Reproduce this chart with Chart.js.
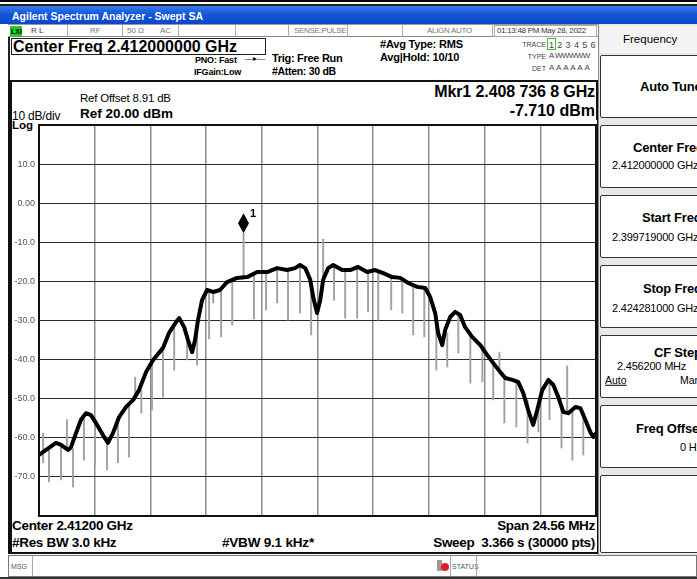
<!DOCTYPE html>
<html>
<head>
<meta charset="utf-8">
<script src="https://cdn.jsdelivr.net/npm/chart.js@4/dist/chart.umd.min.js"></script>
<style>
  html,body{margin:0;padding:0;}
  body{width:697px;height:579px;position:relative;overflow:hidden;background:#fff;font-family:"Liberation Sans",Arial,sans-serif;color:#000;}
  .t{position:absolute;white-space:pre;line-height:1;transform:translateY(-50%);}
  .b{font-weight:bold;}
  .box{position:absolute;box-sizing:border-box;}
  #cv{position:absolute;left:0;top:0;z-index:5;}
</style>
</head>
<body>
<script>
// ---------------- DATA ----------------
// frequency offsets from center (MHz), center 2412.000 MHz, span 24.562 MHz
const centerMHz = 2412.0;
const spanMHz = 24.562;
const traceFreq = [-12.28,-11.97,-11.53,-11.31,-11.00,-10.87,-10.65,-10.43,-10.21,-9.99,-9.77,-9.46,-9.24,-9.02,-8.75,-8.44,-8.13,-7.87,-7.56,-7.25,-6.81,-6.55,-6.24,-6.10,-5.88,-5.71,-5.53,-5.40,-5.27,-5.09,-4.87,-4.60,-4.30,-3.99,-3.55,-3.10,-2.66,-2.22,-1.78,-1.34,-0.99,-0.77,-0.54,-0.32,-0.19,-0.02,0.12,0.25,0.47,0.69,1.09,1.44,1.79,2.19,2.54,2.90,3.29,3.65,4.00,4.40,4.75,4.97,5.19,5.32,5.50,5.63,5.85,6.07,6.29,6.51,6.82,7.18,7.48,7.75,8.06,8.28,8.59,8.85,9.07,9.29,9.51,9.69,9.91,10.18,10.40,10.62,10.84,11.06,11.37,11.59,11.81,12.03,12.16,12.28];
const traceLevel = [-64.4,-63.1,-61.3,-61.8,-63.1,-62.4,-58.8,-55.4,-53.7,-54.2,-56.2,-59.3,-61.3,-58.8,-54.7,-52.1,-50.3,-47.8,-43.2,-40.1,-37.0,-33.2,-30.4,-29.4,-31.7,-35.0,-38.1,-35.0,-29.9,-24.8,-22.2,-22.7,-22.2,-20.2,-19.1,-18.9,-17.6,-17.6,-16.6,-17.1,-16.6,-15.8,-16.6,-19.6,-24.0,-28.1,-24.8,-19.6,-16.6,-15.8,-17.1,-17.1,-16.3,-17.6,-17.1,-17.9,-18.9,-19.1,-20.4,-21.4,-21.7,-24.0,-28.1,-33.2,-36.3,-32.4,-29.1,-27.8,-28.6,-31.7,-34.2,-36.3,-38.8,-40.9,-43.2,-44.7,-45.2,-45.7,-48.5,-52.9,-56.7,-52.9,-47.8,-45.2,-46.5,-49.6,-53.4,-53.7,-52.1,-52.4,-55.4,-58.5,-59.8,-58.8];
// gray averaging spikes: frequency offset (MHz), start level, end level (dBm)
const spikeFreq = [-12.10,-11.84,-11.31,-11.05,-10.78,-10.30,-9.81,-9.28,-8.80,-8.31,-8.04,-7.77,-7.30,-6.81,-6.32,-5.75,-5.31,-4.78,-4.60,-4.25,-3.76,-3.26,-2.80,-2.27,-1.78,-1.30,-0.77,-0.28,0.25,0.73,1.22,1.75,2.23,2.68,3.25,3.74,4.22,4.71,5.24,5.72,6.21,6.74,7.27,7.75,8.02,8.24,8.77,9.26,9.74,10.23,10.76,11.01,11.24,11.72];
const spikeFrom = [-58.8,-63.1,-61.8,-55.4,-62.9,-54.2,-54.9,-60.6,-55.4,-51.6,-44.5,-47.8,-40.6,-37.5,-31.2,-33.7,-30.4,-22.5,-22.7,-22.2,-19.6,-18.9,-18.6,-17.6,-16.6,-17.1,-16.1,-20.2,-19.6,-16.1,-17.1,-16.6,-17.6,-17.1,-18.9,-19.4,-20.9,-21.7,-29.4,-33.2,-28.1,-33.2,-36.8,-40.9,-42.7,-44.5,-45.5,-50.3,-52.9,-45.5,-51.6,-53.7,-53.4,-53.4];
const spikeTo = [-66.4,-71.3,-70.8,-62.4,-72.6,-65.7,-67.0,-68.2,-66.4,-64.9,-50.3,-53.7,-52.9,-49.6,-42.7,-40.1,-41.4,-34.7,-25.5,-34.2,-31.2,-7.71,-29.6,-27.3,-25.5,-29.9,-28.1,-33.7,-9.2,-24.8,-29.4,-29.4,-27.8,-29.9,-27.3,-28.1,-33.7,-34.2,-42.7,-41.9,-38.3,-46.0,-45.7,-50.3,-38.1,-56.2,-57.2,-61.3,-58.5,-55.4,-62.6,-41.6,-65.7,-64.4];
// marker 1
const markerFreq = [-3.2632];   // 2.4087368 GHz
const markerLevel = [-7.71];
const markerLabels = ['1'];
// y tick labels (ref 20 dBm, 10 dB/div)
const yTickValues = [20,10,0,-10,-20,-30,-40,-50,-60,-70,-80];
const yTickLabels = ['','10.0','0.00','-10.0','-20.0','-30.0','-40.0','-50.0','-60.0','-70.0',''];

// ---------------- CHROME ----------------
function txt(s, x, y, size, opts) {
  opts = opts || {};
  const d = document.createElement('div');
  d.className = 't' + (opts.bold ? ' b' : '');
  d.textContent = s;
  d.style.fontSize = size + 'px';
  if (opts.right !== undefined) d.style.right = (697 - opts.right) + 'px'; else d.style.left = x + 'px';
  d.style.top = y + 'px';
  if (opts.color) d.style.color = opts.color;
  if (opts.ls !== undefined) d.style.letterSpacing = opts.ls + 'px';
  if (opts.center) { d.style.transform = 'translate(-50%,-50%)'; }
  if (opts.ul) d.style.textDecoration = 'underline';
  document.body.appendChild(d);
  return d;
}
function box(x, y, w, h, css) {
  const d = document.createElement('div');
  d.className = 'box';
  d.style.left = x + 'px'; d.style.top = y + 'px';
  d.style.width = w + 'px'; d.style.height = h + 'px';
  Object.assign(d.style, css || {});
  document.body.appendChild(d);
  return d;
}
// outer top lines and title bar
box(0, 0, 697, 2, {background:'#000'});
box(0, 4, 697, 2, {background:'#222'});
box(0, 6, 697, 18, {background:'linear-gradient(180deg,#3b7be9 0%,#1456d8 45%,#0a47c8 100%)'});
txt('Agilent Spectrum Analyzer - Swept SA', 12, 15.5, 10.5, {color:'#fff', bold:true});
// status row
box(8, 24, 590, 13, {background:'#fff', borderTop:'1px solid #999', borderBottom:'1px solid #888'});
box(10, 26, 12, 10, {background:'#22cc22'});
txt('LXI', 11, 31, 7, {bold:true});
txt('R L', 31, 31, 8, {color:'#333'});
const seps = [67, 122, 178, 235, 288, 347, 402, 492];
seps.forEach(sx => box(sx, 25, 1, 12, {background:'#aaa'}));
txt('RF', 90, 31, 8, {color:'#777'});
txt('50 \u03a9', 127, 31, 8, {color:'#777'});
txt('AC', 160, 31, 8, {color:'#777'});
txt('SENSE:PULSE', 294, 31, 8, {color:'#777', ls:-0.3});
txt('ALIGN AUTO', 427, 31, 8, {color:'#777', ls:-0.3});
box(494, 25, 103, 12, {border:'1px solid #aaa', background:'#fff'});
txt('01:13:48 PM May 28, 2022', 497, 31, 8, {color:'#333', ls:-0.3});
// header block
box(8, 37, 590, 44, {background:'#fff', borderLeft:'2px solid #222'});
box(11, 38, 255, 17, {border:'1.5px solid #222'});
txt('Center Freq 2.412000000 GHz', 13, 46.5, 16, {bold:true, ls:0});
txt('PNO: Fast', 195, 60, 9, {bold:true, ls:-0.2});
txt('\u2014\u25b8\u2014', 245, 59, 8, {});
txt('IFGain:Low', 194, 71.5, 9, {bold:true, ls:-0.2});
txt('Trig: Free Run', 272, 58, 11, {bold:true, ls:-0.3});
txt('#Atten: 30 dB', 272, 70.5, 10.5, {bold:true, ls:-0.3});
txt('#Avg Type: RMS', 380, 43.5, 11, {bold:true, ls:-0.2});
txt('Avg|Hold: 10/10', 380, 57, 11, {bold:true, ls:-0.2});
txt('TRACE', 546, 44, 7, {right:546, color:'#444'});
txt('TYPE', 546, 56, 7, {right:546, color:'#444'});
txt('DET', 546, 67.5, 7, {right:546, color:'#444'});
box(547, 38, 9, 12, {border:'1px solid #44bb44'});
txt('1 2 3 4 5 6', 549, 44.5, 9, {color:'#444', ls:0.4});
txt('A WWWWW', 549, 56, 8, {color:'#444', ls:-0.6});
txt('A A A A A A', 549, 67.5, 8, {color:'#444', ls:0.2});
// chart frame
box(8, 80, 591, 474, {borderTop:'2px solid #111', borderLeft:'4px solid #111', borderRight:'2px solid #111', borderBottom:'2px solid #111', background:'#fff'});
txt('Ref Offset 8.91 dB', 80, 99, 11.5, {ls:-0.2});
txt('Ref 20.00 dBm', 80, 114, 13.5, {bold:true, ls:0});
txt('10 dB/div', 12, 116, 12, {ls:-0.2});
txt('Log', 12, 125.5, 11.5, {bold:true});
txt('Mkr1 2.408 736 8 GHz', 0, 92, 16, {bold:true, right:595, ls:-0.1});
txt('-7.710 dBm', 0, 111, 16, {bold:true, right:595});
box(596, 82, 2, 38, {background:'#111'});
txt('Center 2.41200 GHz', 12, 526, 13.5, {bold:true, ls:-0.3});
txt('#Res BW 3.0 kHz', 12, 543, 13.5, {bold:true, ls:-0.3});
txt('#VBW 9.1 kHz*', 222, 543, 13.5, {bold:true, ls:-0.2});
txt('Span 24.56 MHz', 0, 526, 13.5, {bold:true, right:595, ls:-0.3});
txt('Sweep  3.366 s (30000 pts)', 0, 543, 13.5, {bold:true, right:595, ls:-0.3});
// msg bar
box(8, 555, 689, 22, {border:'1px solid #777', background:'#fff'});
box(32, 556, 1, 20, {background:'#aaa'});
txt('MSG', 11, 566, 7, {color:'#555'});
box(437, 560, 5, 11, {background:'#999'});
box(441, 563, 8, 8, {background:'#e02020', borderRadius:'50%'});
box(450, 556, 1, 20, {background:'#aaa'});
txt('STATUS', 452, 566, 7, {color:'#555'});
box(476, 556, 1, 20, {background:'#aaa'});
box(0, 577, 697, 2, {background:'#333'});
// right soft-key panel
box(598, 24, 99, 531, {background:'#e8e8e8', borderLeft:'1px solid #888'});
box(600, 26, 140, 27, {background:'#f4f4f4'});
txt('Frequency', 623, 40, 11.5, {});
const keys = [
  {y:55, h:63, l1:'Auto Tune', x1:640, y1:86},
  {y:125, h:63, l1:'Center Freq', x1:633, y1:147, l2:'2.412000000 GHz', x2:612, y2:165},
  {y:195, h:63, l1:'Start Freq', x1:642, y1:217, l2:'2.399719000 GHz', x2:612, y2:237},
  {y:265, h:63, l1:'Stop Freq', x1:643, y1:288, l2:'2.424281000 GHz', x2:612, y2:308},
  {y:335, h:63, l1:'CF Step', x1:654, y1:352, l2:'2.456200 MHz', x2:617, y2:366},
  {y:405, h:63, l1:'Freq Offset', x1:636, y1:428, l2:'0 Hz', x2:680, y2:447},
  {y:475, h:78}
];
keys.forEach(k => {
  box(600, k.y, 140, k.h, {background:'#fff', border:'1.5px solid #333', borderRadius:'2px'});
  if (k.l1) txt(k.l1, k.x1, k.y1, 13, {bold:true, ls:-0.2});
  if (k.l2) txt(k.l2, k.x2, k.y2, 11, {ls:-0.2});
});
txt('Auto', 605, 380, 10.5, {ul:true});
txt('Man', 680, 380, 10.5, {});

// ---------------- CHART ----------------
const cv = document.createElement('canvas');
cv.id = 'cv';
cv.width = 697;
cv.height = 579;
cv.style.width = '697px';
cv.style.height = '579px';
document.body.appendChild(cv);
const div = spanMHz / 10;
const xGrid = [];
for (let i = 0; i <= 10; i++) xGrid.push(-spanMHz / 2 + i * div);

const frame = {
  id: 'frame',
  afterDatasetsDraw(chart) {
    const {ctx, chartArea: a, scales} = chart;
    ctx.save();
    markerFreq.forEach((f, i) => {
      const px = scales.x.getPixelForValue(f);
      const py = scales.y.getPixelForValue(markerLevel[i]);
      ctx.fillStyle = '#000';
      ctx.beginPath();
      ctx.moveTo(px, py);
      ctx.lineTo(px + 5.5, py - 10);
      ctx.lineTo(px, py - 20);
      ctx.lineTo(px - 5.5, py - 10);
      ctx.closePath();
      ctx.fill();
      ctx.font = 'bold 11px "Liberation Sans", Arial';
      ctx.textBaseline = 'middle';
      ctx.fillText(markerLabels[i], px + 6.5, py - 19);
    });
    ctx.strokeStyle = '#111';
    ctx.lineWidth = 2;
    ctx.strokeRect(a.left, a.top, a.right - a.left, a.bottom - a.top);
    ctx.fillStyle = '#111';
    ctx.fillRect(a.right - 1, a.top - 1, 3, a.bottom - a.top + 2);
    ctx.restore();
  }
};

new Chart(cv, {
  type: 'line',
  data: {
    datasets: [
      {
        type: 'line',
        data: traceFreq.map((f, i) => ({x: f, y: traceLevel[i]})),
        borderColor: '#000',
        borderWidth: 4,
        pointRadius: 0,
        tension: 0,
        borderJoinStyle: 'round',
        order: 1
      },
      {
        type: 'bar',
        data: spikeFreq.map((f, i) => ({x: f, y: [spikeFrom[i], spikeTo[i]]})),
        backgroundColor: '#a2a2a2',
        borderWidth: 0,
        barThickness: 1.3,
        order: 2
      }
    ]
  },
  options: {
    responsive: false,
    maintainAspectRatio: false,
    animation: false,
    devicePixelRatio: 1,
    layout: {padding: {left: 0, top: 125, right: 101, bottom: 63}},
    plugins: {legend: {display: false}, tooltip: {enabled: false}},
    scales: {
      x: {
        type: 'linear',
        min: -spanMHz / 2,
        max: spanMHz / 2,
        offset: false,
        afterBuildTicks: s => { s.ticks = xGrid.map(v => ({value: v})); },
        afterFit: s => { s.height = 0; },
        ticks: {display: false},
        grid: {color: '#8c8c8c', lineWidth: 1.5, drawTicks: false, offset: false},
        border: {display: false}
      },
      y: {
        min: -80,
        max: 20,
        afterBuildTicks: s => { s.ticks = yTickValues.map(v => ({value: v})); },
        afterFit: s => { s.width = 39; },
        ticks: {
          callback: (v) => yTickLabels[yTickValues.indexOf(v)],
          font: {family: '"Liberation Sans", Arial', size: 9},
          color: '#555',
          padding: 4
        },
        grid: {color: '#2a2a2a', lineWidth: 1, drawTicks: false},
        border: {display: false}
      }
    }
  },
  plugins: [frame]
});
</script>
</body>
</html>
